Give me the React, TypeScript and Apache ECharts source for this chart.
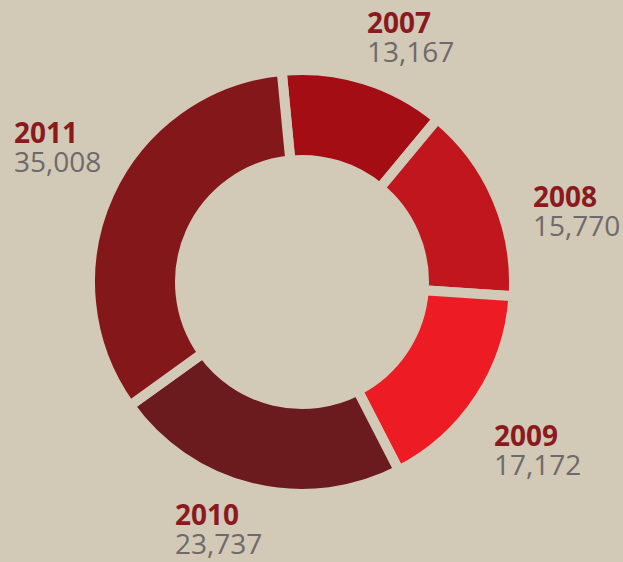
import React, { useEffect, useRef } from "react";
import * as echarts from "echarts";

const years = ["2007", "2008", "2009", "2010", "2011"];
const values = [13167, 15770, 17172, 23737, 35008];
const sliceColors = ["#a50d15", "#c2161e", "#ed1c24", "#6b1a1e", "#83171a"];
// label anchor (left, top) for each slice's text block
const labelX = [367, 533, 494, 175, 14];
const labelY = [7, 181, 420, 499, 117];

const BG = "#d2c9b6";

export default function App() {
  const ref = useRef<HTMLDivElement>(null);
  useEffect(() => {
    if (!ref.current) return;
    const chart = echarts.init(ref.current, null, { renderer: "svg" });
    chart.setOption({
      animation: false,
      backgroundColor: BG,
      series: [
        {
          type: "pie",
          center: [302, 282],
          radius: [122, 212],
          startAngle: 95.5,
          clockwise: true,
          avoidLabelOverlap: false,
          itemStyle: { borderColor: BG, borderWidth: 10 },
          emphasis: { disabled: true },
          data: years.map((y, i) => ({
            name: y,
            value: values[i],
            itemStyle: { color: sliceColors[i] },
          })),
          label: {
            show: true,
            position: "outside",
            formatter: (p: any) =>
              `{y|${p.name}}\n{v|${Number(p.value).toLocaleString("en-US")}}`,
            rich: {
              y: {
                fontFamily: "Open Sans",
                fontWeight: "bold",
                fontSize: 28,
                lineHeight: 29,
                color: "#8b1a1f",
              },
              v: {
                fontFamily: "Open Sans",
                fontSize: 28,
                lineHeight: 29,
                color: "#6e6a6c",
              },
            },
          },
          labelLine: { show: false },
          labelLayout: (params: any) => ({
            x: labelX[params.dataIndex],
            y: labelY[params.dataIndex],
            align: "left",
            verticalAlign: "top",
          }),
        },
      ],
    });
    return () => chart.dispose();
  }, []);
  return (
    <div
      ref={ref}
      style={{ position: "fixed", left: 0, top: 0, width: 623, height: 562, background: BG }}
    />
  );
}
